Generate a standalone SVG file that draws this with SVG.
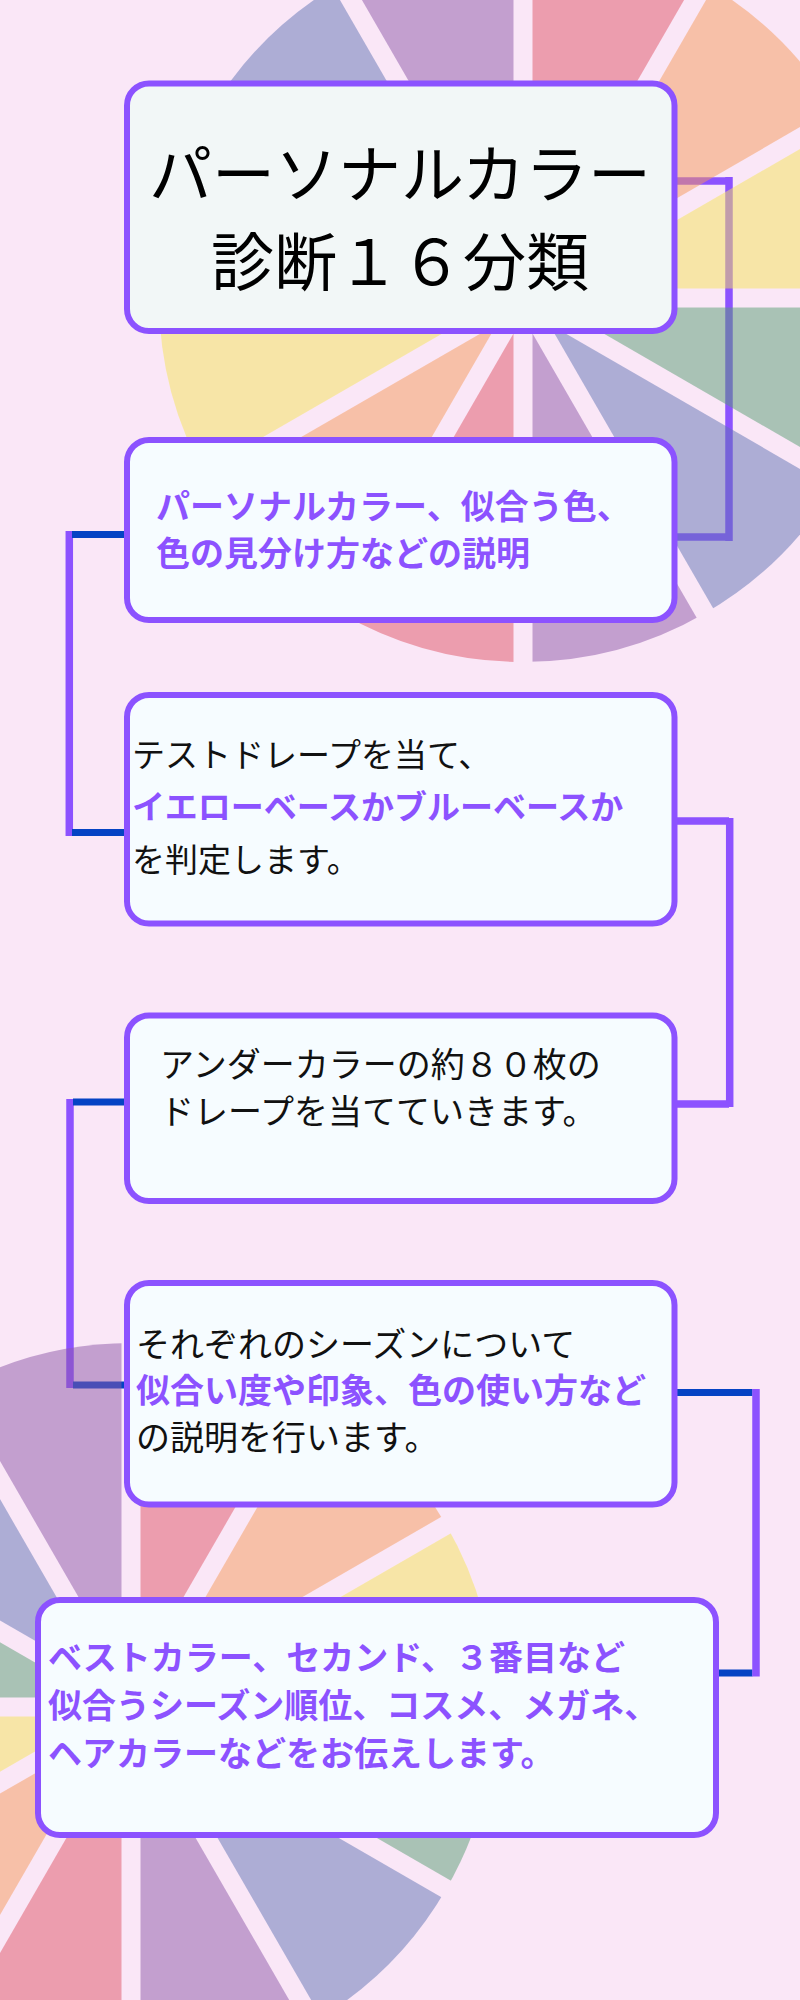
<svg xmlns="http://www.w3.org/2000/svg" xmlns:xlink="http://www.w3.org/1999/xlink" width="800" height="2000" viewBox="0 0 800 2000">
  <style>
    .box { stroke: #8c52ff; stroke-width: 6; fill: #f6fcff; }
    .title-box { fill: #f2f7f7; }
    .pc { stroke: #8c52ff; stroke-width: 7.5; fill: none; }
    .bc { stroke: #0443c4; stroke-width: 7; fill: none; }
    .t { font-family: "Noto Sans CJK JP", "Noto Sans", sans-serif; font-size: 34px; fill: #111; }
    .b { font-weight: bold; fill: #8c52ff; }
    .title { font-family: "Noto Sans CJK JP", "Noto Sans", sans-serif; font-size: 63px; fill: #000; text-anchor: middle; }
  </style>
  <defs>
    <mask id="pieGaps" maskUnits="userSpaceOnUse" x="-380" y="-380" width="760" height="760">
      <circle cx="0" cy="0" r="366" fill="#fff"/>
      <g stroke="#000" stroke-width="19">
        <path d="M0 -380 L0 380"/>
        <path d="M190 -329.09 L-190 329.09"/>
        <path d="M329.09 -190 L-329.09 190"/>
        <path d="M-380 0 L380 0"/>
        <path d="M329.09 190 L-329.09 -190"/>
        <path d="M190 329.09 L-190 -329.09"/>
      </g>
    </mask>
    <g id="pie" mask="url(#pieGaps)" opacity="0.5">
      <path fill="#e05567" d="M0 0 L0 -364 A364 364 0 0 1 182 -315.23 Z"/>
      <path fill="#f69b5b" d="M0 0 L182 -315.23 A364 364 0 0 1 315.23 -182 Z"/>
      <path fill="#f6e559" d="M0 0 L315.23 -182 A364 364 0 0 1 364 0 Z"/>
      <path fill="#5a9f75" d="M0 0 L364 0 A364 364 0 0 1 315.23 182 Z"/>
      <path fill="#6275b5" d="M0 0 L315.23 182 A364 364 0 0 1 182 315.23 Z"/>
      <path fill="#8e59a9" d="M0 0 L182 315.23 A364 364 0 0 1 0 364 Z"/>
      <path fill="#e05567" d="M0 0 L0 364 A364 364 0 0 1 -182 315.23 Z"/>
      <path fill="#f69b5b" d="M0 0 L-182 315.23 A364 364 0 0 1 -315.23 182 Z"/>
      <path fill="#f6e559" d="M0 0 L-315.23 182 A364 364 0 0 1 -364 0 Z"/>
      <path fill="#5a9f75" d="M0 0 L-364 0 A364 364 0 0 1 -315.23 -182 Z"/>
      <path fill="#6275b5" d="M0 0 L-315.23 -182 A364 364 0 0 1 -182 -315.23 Z"/>
      <path fill="#8e59a9" d="M0 0 L-182 -315.23 A364 364 0 0 1 0 -364 Z"/>
    </g>
  </defs>

  <rect x="0" y="0" width="800" height="2000" fill="#fae7f7"/>

  <g id="connectors">
    <path class="pc" d="M674 181 H729 M674 537 H729 M729 177 V541"/>
    <path class="pc" d="M69.3 531 V836"/>
    <path class="bc" d="M72 534.5 H127 M72 832.5 H127"/>
    <path class="pc" d="M674 821 H729 M674 1104 H729 M729.7 818 V1107"/>
    <path class="pc" d="M70 1099 V1388"/>
    <path class="bc" d="M73 1102 H127 M73 1385 H127"/>
    <path class="bc" d="M674 1392.5 H752.5 M716 1673 H752.5"/>
    <path class="pc" d="M756 1389 V1676.5"/>
  </g>

  <g id="background-pies">
    <use xlink:href="#pie" href="#pie" transform="translate(523 298)"/>
    <use xlink:href="#pie" href="#pie" transform="translate(131 1707)"/>
  </g>

  <g id="node-title">
    <rect class="box title-box" x="127" y="83.5" width="547.5" height="247.5" rx="22"/>
    <text class="title" x="400" y="197">パーソナルカラー</text>
    <text class="title" x="400" y="285">診断１６分類</text>
  </g>

  <g id="node-explain">
    <rect class="box" x="127" y="440" width="547.5" height="180" rx="22"/>
    <text class="t b" x="156" y="519">パーソナルカラー、似合う色、</text>
    <text class="t b" x="156" y="566">色の見分け方などの説明</text>
  </g>

  <g id="node-test-drape">
    <rect class="box" x="127" y="695" width="547.5" height="228.5" rx="22"/>
    <text class="t" x="132" y="766.5" style="font-size:33px">テストドレープを当て、</text>
    <text class="t b" x="132" y="818.5" style="font-size:33px">イエローベースかブルーベースか</text>
    <text class="t" x="132" y="871.5" style="font-size:33px">を判定します。</text>
  </g>

  <g id="node-under-color">
    <rect class="box" x="127" y="1015.5" width="547.5" height="185.5" rx="22"/>
    <text class="t" x="160" y="1077">アンダーカラーの約８０枚の</text>
    <text class="t" x="160" y="1124">ドレープを当てていきます。</text>
  </g>

  <g id="node-season">
    <rect class="box" x="127" y="1283" width="547.5" height="221.5" rx="22"/>
    <text class="t" x="136" y="1356.5">それぞれのシーズンについて</text>
    <text class="t b" x="136" y="1403">似合い度や印象、色の使い方など</text>
    <text class="t" x="136" y="1450">の説明を行います。</text>
  </g>

  <g id="node-best-color">
    <rect class="box" x="38" y="1600" width="678" height="235" rx="22"/>
    <text class="t b" x="48" y="1670">ベストカラー、セカンド、３番目など</text>
    <text class="t b" x="48" y="1718">似合うシーズン順位、コスメ、メガネ、</text>
    <text class="t b" x="48" y="1766">ヘアカラーなどをお伝えします。</text>
  </g>
</svg>
